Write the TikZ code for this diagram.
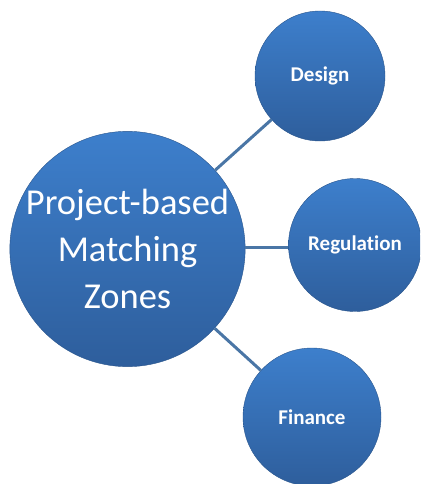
\documentclass[tikz,border=0pt]{standalone}
\usepackage{fontspec}
\setmainfont{Carlito}[Ligatures=NoCommon]
\definecolor{ctop}{HTML}{3D7FCC}
\definecolor{cbot}{HTML}{2E5E9C}
\definecolor{linec}{HTML}{4A76A6}
\tikzset{
  bubble/.style={circle, top color=ctop, bottom color=cbot, draw=cbot!90!black, line width=0.4pt, inner sep=0pt, text=white, align=center},
  small/.style={font=\bfseries\fontsize{21}{24}\selectfont},
  link/.style={draw=linec, line width=3pt}
}
\begin{document}
\begin{tikzpicture}[x=1pt,y=-1pt]
\useasboundingbox (0,0) rectangle (420,484);
\begin{scope}
\clip (0,0) rectangle (420,484);
\node[bubble, minimum size=232pt, font=\fontsize{36.5}{47}\selectfont] (main) at (127.5,249) {Project-based\\Matching\\Zones};
\node[bubble, minimum size=130pt, small] (design) at (320,76) {Design};
\node[bubble, minimum size=133pt, small] (reg) at (355,245) {Regulation};
\node[bubble, minimum size=138pt, small] (fin) at (312,417) {Finance};
\draw[link] (main) -- (design);
\draw[link] (main.east |- 0,247) -- (reg.west |- 0,247);
\draw[link] (main) -- (fin);
\end{scope}
\end{tikzpicture}
\end{document}
